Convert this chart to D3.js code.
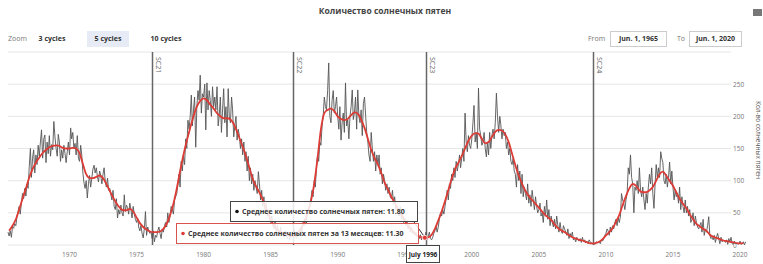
<!DOCTYPE html>
<html><head><meta charset="utf-8">
<script src="https://cdn.jsdelivr.net/npm/d3@7"></script>
<style>
html,body{margin:0;padding:0;background:#fff;}
svg{display:block;font-family:"Open Sans","DejaVu Sans",sans-serif;}
</style></head>
<body>
<svg id="c" width="763" height="264"></svg>
<script>
// ---------- data ----------
const chartTitle = "Количество солнечных пятен";
const yAxisTitle = "Кол-во солнечных пятен";
const rawStart = "1965-06";   // monthly mean sunspot number, first month
const rawValues = [
  20,14,22,12,28,26,33,                          // 1965 Jun-Dec
  30,45,52,60,48,65,80,72,88,76,95,88,           // 1966
  122,150,105,135,148,112,140,125,155,138,160,179, // 1967
  135,165,171,128,160,142,170,138,156,148,192,168, // 1968
  150,138,172,160,130,148,135,155,142,128,145,160, // 1969
  140,182,165,175,150,158,140,170,135,130,155,140, // 1970
  112,96,88,100,73,95,108,90,104,118,124,112,    // 1971
  120,106,98,115,108,95,110,120,98,90,104,85,    // 1972
  88,78,70,85,60,55,72,42,55,48,62,50,           // 1973
  45,78,52,62,58,48,65,55,42,60,48,40,           // 1974
  35,42,28,22,30,18,11,25,52,15,28,22,           // 1975
  18,20,10,22,5,15,12,22,28,18,10,25,            // 1976
  20,30,35,28,50,35,45,60,55,48,70,75,           // 1977
  80,95,110,90,130,115,140,125,165,150,194,180,  // 1978
  200,233,185,210,230,152,215,240,225,264,205,235, // 1979
  230,250,179,252,210,240,225,200,246,215,230,210, // 1980
  246,185,200,230,175,210,243,190,215,168,243,200, // 1981
  190,230,210,168,185,200,163,180,170,150,165,140, // 1982
  160,130,145,115,138,100,120,95,110,85,100,90,  // 1983
  80,114,95,70,85,60,75,50,65,45,55,40,          // 1984
  35,45,30,25,38,20,30,22,18,28,15,20,           // 1985
  12,22,18,10,20,8,15,12,18,25,14,10,            // 1986
  15,22,18,28,20,35,30,40,32,55,48,60,           // 1987
  70,85,75,100,90,120,140,130,160,155,185,200,   // 1988
  230,215,210,240,283,200,190,225,240,205,215,230, // 1989
  200,180,215,163,190,205,175,252,185,195,165,200, // 1990
  215,241,195,205,230,180,241,200,190,210,170,220, // 1991
  230,200,175,160,140,130,175,150,130,145,115,140, // 1992
  125,140,110,120,95,110,100,85,95,80,90,75,     // 1993
  72,85,65,75,55,62,50,45,60,40,48,35,           // 1994
  42,30,38,25,32,20,28,18,22,15,20,12,           // 1995
  14,10,16,8,12,15,11.8,20,9,14,20,10,           // 1996
  8,12,18,22,30,20,28,40,50,45,55,48,            // 1997
  60,72,85,70,95,88,110,100,120,105,130,115,     // 1998
  125,140,120,135,150,130,205,160,145,170,155,150, // 1999
  165,190,217,160,175,150,244,180,170,155,160,175, // 2000
  150,137,160,140,175,150,170,180,165,190,236,200, // 2001
  175,200,187,165,180,170,175,150,160,140,150,130, // 2002
  125,135,115,110,90,125,100,115,80,110,75,90,   // 2003
  80,70,95,65,78,60,85,70,55,75,60,50,           // 2004
  55,65,45,50,35,60,45,70,40,55,30,45,           // 2005
  35,28,40,25,45,30,20,35,22,18,30,25,           // 2006
  20,15,25,10,18,12,20,8,10,5,12,8,              // 2007
  6,10,4,12,5,8,3,6,2,8,5,3,                     // 2008
  2,3,1,4,5,3,6,2,8,6,10,15,                     // 2009
  18,25,22,15,28,20,30,25,35,40,30,42,           // 2010
  35,45,80,70,65,55,70,80,120,110,140,105,       // 2011
  95,50,90,85,100,80,120,85,75,90,70,55,         // 2012
  80,65,90,110,95,120,80,57,95,125,105,120,      // 2013
  105,145,135,128,100,95,110,90,105,129,95,115,  // 2014
  90,70,85,75,80,65,90,55,75,60,50,70,           // 2015
  50,60,45,55,35,40,50,30,45,35,28,25,           // 2016
  30,35,20,40,15,25,20,30,44,15,10,12,           // 2017
  8,15,4,12,18,10,2,12,5,8,6,4,                  // 2018
  8,1,10,5,12,2,1,6,2,3,1,2,                     // 2019
  6,1,2,5,0,5                                    // 2020 Jan-Jun
];
const smoothStart = "1965-07"; // 13-month smoothed, every 3 months
const smoothValues = [
  22,30,
  40,55,72,88, 105,118,128,136, 143,148,152,154, 155,154,151,150, 150,151,150,143,
  126,110,104,104, 106,108,104,95, 84,74,65,58, 54,54,56,52, 43,34,28,24,
  21,20,20,21, 25,33,46,64, 88,115,140,162, 182,200,215,224, 228,225,218,212,
  205,200,197,197, 195,188,176,162, 148,132,114,98, 88,78,66,52, 40,30,24,20,
  18,16,14,15, 18,25,35,50, 68,95,135,180, 205,210,212,208, 200,196,194,196,
  202,206,204,195, 182,165,148,135, 125,112,97,86, 75,66,56,47, 38,30,24,18,
  14,12,11.3,12, 16,25,38,52, 68,85,103,118, 128,138,150,162, 170,174,173,165,
  158,160,168,176, 179,178,172,160, 142,124,108,95, 84,76,70,64, 58,52,46,42,
  37,30,25,22, 19,15,12,10, 8,7,5,3, 2.5,3,5,9, 15,20,26,36, 47,62,76,88,
  95,92,85,82, 82,85,90,100, 110,114,108,100, 92,82,72,64, 57,48,40,33,
  29,25,22,16, 13,11,9,7, 6,5,4,3, 2.5,3
];
const yTicks = [0,50,100,150,200,250];
const xTickYears = [1970,1975,1980,1985,1990,1995,2000,2005,2010,2015,2020];
const cycleLabels = ["SC21","SC22","SC23","SC24"];
const cycleDates = ["1976-03","1986-09","1996-08","2009-01"];
const zoomButtons = ["3 cycles","5 cycles","10 cycles"];
const selectedZoom = "5 cycles";
const rangeFrom = "Jun. 1, 1965";
const rangeTo = "Jun. 1, 2020";
const tipDate = "1996-07";
const tipLabel = "July 1996";
const tipRawText = "Среднее количество солнечных пятен: 11.80";
const tipSmoothText = "Среднее количество солнечных пятен за 13 месяцев: 11.30";
const tipSmoothValue = 11.3;

// ---------- build ----------
const parse = d3.timeParse("%Y-%m");
const rawData = rawValues.map((v,i)=>({d:d3.timeMonth.offset(parse(rawStart),i), v}));
const smoothData = smoothValues.map((v,i)=>({d:d3.timeMonth.offset(parse(smoothStart),i*3), v}));

const svg = d3.select("#c");
const x = d3.scaleTime().domain([new Date(1965,5,1), new Date(2020,5,1)]).range([8,745.6]);
const y = d3.scaleLinear().domain([0,300]).range([245,52]);

// grid
svg.append("g").selectAll("line").data(yTicks.concat([300])).join("line")
  .attr("x1",8).attr("x2",731).attr("y1",d=>y(d)).attr("y2",d=>y(d))
  .attr("stroke","#e6e6e6").attr("stroke-width",1);

// title
svg.append("text").attr("x",385).attr("y",14).attr("text-anchor","middle")
  .attr("font-size",8.5).attr("font-weight","bold").attr("fill","#444").text(chartTitle);
svg.append("rect").attr("x",753).attr("y",9).attr("width",9).attr("height",7).attr("fill","#777");

// zoom buttons
svg.append("text").attr("x",8).attr("y",41).attr("font-size",7).attr("fill","#777").text("Zoom");
const btnX = [52,108,166];
zoomButtons.forEach((b,i)=>{
  if(b===selectedZoom){
    svg.append("rect").attr("x",btnX[i]-21).attr("y",31).attr("width",42).attr("height",16)
      .attr("fill","#e6ebf5");
  }
  svg.append("text").attr("x",btnX[i]).attr("y",41).attr("text-anchor","middle")
    .attr("font-size",7).attr("font-weight","bold").attr("fill","#333").text(b);
});
// range inputs
svg.append("text").attr("x",588).attr("y",41).attr("font-size",7).attr("fill","#777").text("From");
svg.append("rect").attr("x",610.5).attr("y",31.5).attr("width",56).attr("height",15).attr("fill","#fff").attr("stroke","#ccc");
svg.append("text").attr("x",638.5).attr("y",41).attr("text-anchor","middle").attr("font-size",7).attr("font-weight","bold").attr("fill","#333").text(rangeFrom);
svg.append("text").attr("x",677).attr("y",41).attr("font-size",7).attr("fill","#777").text("To");
svg.append("rect").attr("x",689.5).attr("y",31.5).attr("width",52).attr("height",15).attr("fill","#fff").attr("stroke","#ccc");
svg.append("text").attr("x",715.5).attr("y",41).attr("text-anchor","middle").attr("font-size",7).attr("font-weight","bold").attr("fill","#333").text(rangeTo);

// cycle lines
cycleDates.forEach((c,i)=>{
  const cx = Math.round(x(parse(c)))+0.5;
  svg.append("line").attr("x1",cx).attr("x2",cx).attr("y1",52).attr("y2",245)
    .attr("stroke","#666").attr("stroke-width",1.5);
  svg.append("text").attr("transform",`translate(${cx+3},57) rotate(90)`)
    .attr("font-size",7).attr("fill","#666").text(cycleLabels[i]);
});

// lines
const line = d3.line().x(d=>x(d.d)).y(d=>y(d.v));
svg.append("path").datum(rawData).attr("d",line).attr("fill","none")
  .attr("stroke","#555").attr("stroke-width",0.9);
svg.append("path").datum(smoothData).attr("d",line.curve(d3.curveMonotoneX)).attr("fill","none")
  .attr("stroke","#dd3b35").attr("stroke-width",1.8);

// y labels (right)
svg.append("g").selectAll("text").data(yTicks).join("text")
  .attr("x",733).attr("y",d=>y(d)+2.5).attr("font-size",6.5).attr("fill","#777").text(d=>d);
svg.append("text").attr("transform",`translate(756,140) rotate(90)`).attr("text-anchor","middle")
  .attr("font-size",6.5).attr("fill","#555").text(yAxisTitle);

// x labels
svg.append("g").selectAll("text").data(xTickYears).join("text")
  .attr("x",d=>x(new Date(d,0,1))).attr("y",257).attr("text-anchor","middle")
  .attr("font-size",6.5).attr("fill","#777").text(d=>d);

// tooltip
const td = parse(tipDate);
const tRaw = rawData.find(r=>+r.d===+td).v;
const px = x(td), pyR = y(tRaw), pyS = y(tipSmoothValue);
svg.append("line").attr("x1",414).attr("y1",222).attr("x2",px).attr("y2",pyR).attr("stroke","#333").attr("stroke-width",1);
svg.append("line").attr("x1",418).attr("y1",236).attr("x2",px).attr("y2",pyS).attr("stroke","#d9534f").attr("stroke-width",1);
svg.append("circle").attr("cx",px).attr("cy",pyS).attr("r",2.5).attr("fill","#dd3b35").attr("stroke","#fff").attr("stroke-width",0.8);
svg.append("rect").attr("x",230.5).attr("y",201.5).attr("width",187).attr("height",20)
  .attr("fill","#fff").attr("fill-opacity",0.85).attr("stroke","#444");
svg.append("circle").attr("cx",237).attr("cy",211.5).attr("r",1.8).attr("fill","#111");
svg.append("text").attr("x",242).attr("y",214).attr("font-size",7).attr("font-weight","bold").attr("fill","#333").text(tipRawText);
svg.append("rect").attr("x",176.5).attr("y",223.5).attr("width",242).attr("height",20)
  .attr("fill","#fff").attr("fill-opacity",0.85).attr("stroke","#d9534f");
svg.append("circle").attr("cx",183).attr("cy",233.5).attr("r",1.8).attr("fill","#dd3b35");
svg.append("text").attr("x",188).attr("y",236).attr("font-size",7).attr("font-weight","bold").attr("fill","#333").text(tipSmoothText);
svg.append("rect").attr("x",406.5).attr("y",245.5).attr("width",33).attr("height",17)
  .attr("fill","#fff").attr("stroke","#444");
svg.append("text").attr("x",423).attr("y",256.5).attr("text-anchor","middle").attr("font-size",6.5).attr("font-weight","bold").attr("fill","#222").text(tipLabel);
</script>
</body></html>
